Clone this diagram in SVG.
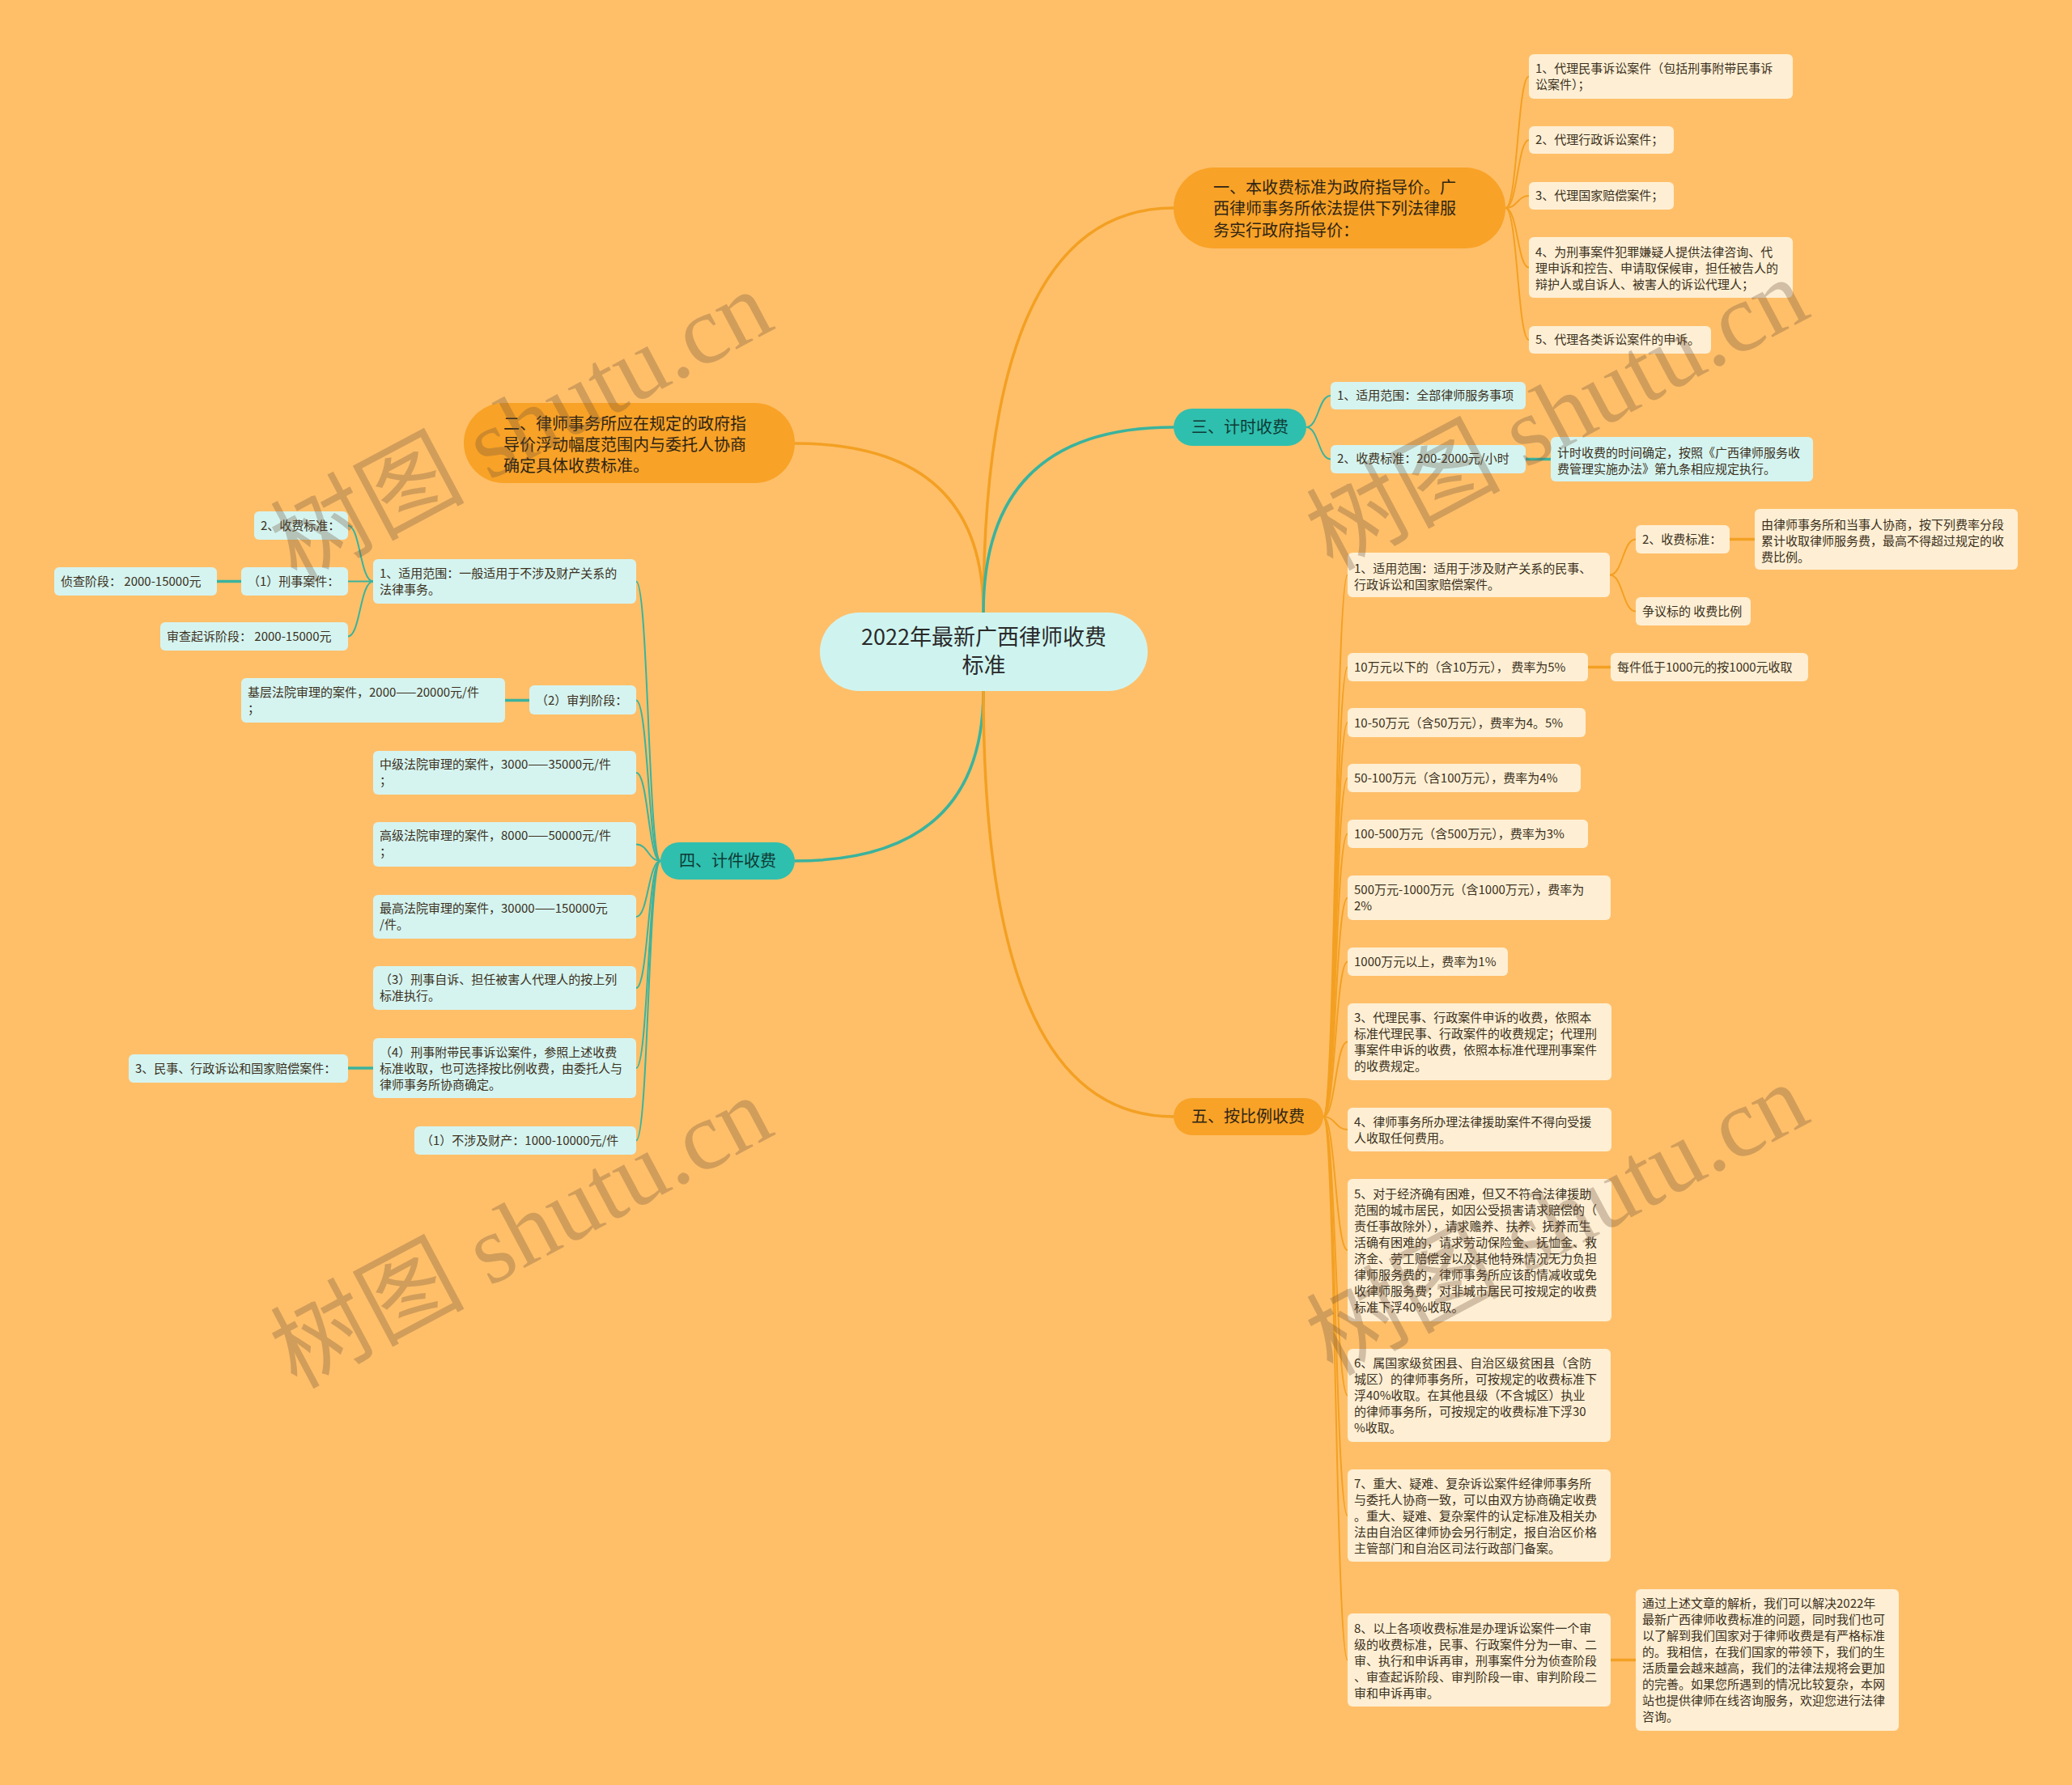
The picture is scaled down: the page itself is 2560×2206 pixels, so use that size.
<svg xmlns="http://www.w3.org/2000/svg" width="2560" height="2206" viewBox="0 0 2560 2206">
<style>
text{font-family:"Noto Sans CJK SC","Noto Sans",sans-serif;}
.s{font-size:15px;fill:#3b3020;}
.m{font-size:20px;fill:#2e2414;}
.mt{font-size:20px;fill:#0e3a34;}
.r{font-size:27px;fill:#2a2a2a;}
.cream{fill:#FEEFD4;}
.aqua{fill:#D5F4F0;}
.po{fill:#F8A227;}
.pt{fill:#2FBFAE;}
.root{fill:#CFF4F0;}
.lo{fill:none;stroke:#F3A023;stroke-width:2;}
.lt{fill:none;stroke:#3AB39D;stroke-width:2;}
.lo3{fill:none;stroke:#F3A023;stroke-width:3.5;}
.lt3{fill:none;stroke:#3AB39D;stroke-width:3.5;}
.wm{font-family:"Liberation Serif","Noto Sans CJK SC",serif;font-size:120px;fill:#6b5038;opacity:.3;}
</style>
<rect width="2560" height="2206" fill="#FFBF69"/>

<g id="connectors">
<path class="lo3" d="M1215,757 Q1215,257 1450,257"/>
<path class="lo3" d="M1215,757 Q1215,548 982,548"/>
<path class="lt3" d="M1215,757 Q1215,528 1450,528"/>
<path class="lt3" d="M1215,854 Q1215,1064 982,1064"/>
<path class="lo3" d="M1215,854 Q1215,1380 1450,1380"/>

<path class="lo" d="M1860,257 C1875,257 1875,94.5 1889,94.5"/>
<path class="lo" d="M1860,257 C1875,257 1875,173 1889,173"/>
<path class="lo" d="M1860,257 C1875,257 1875,242 1889,242"/>
<path class="lo" d="M1860,257 C1875,257 1875,330.5 1889,330.5"/>
<path class="lo" d="M1860,257 C1875,257 1875,420 1889,420"/>

<path class="lt" d="M1614,528 C1629,528 1629,489 1644,489"/>
<path class="lt" d="M1614,528 C1629,528 1629,567.5 1644,567.5"/>
<path class="lt3" d="M1885,567.5 L1916,567.5"/>

<path class="lt" d="M816,1064 C801,1064 801,718.5 786,718.5"/>
<path class="lt" d="M816,1064 C801,1064 801,865.5 786,865.5"/>
<path class="lt" d="M816,1064 C801,1064 801,955 786,955"/>
<path class="lt" d="M816,1064 C801,1064 801,1043.5 786,1043.5"/>
<path class="lt" d="M816,1064 C801,1064 801,1133 786,1133"/>
<path class="lt" d="M816,1064 C801,1064 801,1221 786,1221"/>
<path class="lt" d="M816,1064 C801,1064 801,1320 786,1320"/>
<path class="lt" d="M816,1064 C801,1064 801,1409.5 786,1409.5"/>
<path class="lt" d="M461,718.5 C445,718.5 445,649.5 430,649.5"/>
<path class="lt" d="M461,718.5 L430,718.5"/>
<path class="lt" d="M461,718.5 C445,718.5 445,786.5 430,786.5"/>
<path class="lt3" d="M298,718.5 L268,718.5"/>
<path class="lt3" d="M654,865.5 L624,865.5"/>
<path class="lt3" d="M461,1320 L430,1320"/>

<path class="lo" d="M1635,1380 C1650,1380 1650,710.5 1665,710.5"/>
<path class="lo" d="M1635,1380 C1650,1380 1650,824.5 1665,824.5"/>
<path class="lo" d="M1635,1380 C1650,1380 1650,893 1665,893"/>
<path class="lo" d="M1635,1380 C1650,1380 1650,961.5 1665,961.5"/>
<path class="lo" d="M1635,1380 C1650,1380 1650,1030.5 1665,1030.5"/>
<path class="lo" d="M1635,1380 C1650,1380 1650,1109.5 1665,1109.5"/>
<path class="lo" d="M1635,1380 C1650,1380 1650,1188.5 1665,1188.5"/>
<path class="lo" d="M1635,1380 C1650,1380 1650,1287.5 1665,1287.5"/>
<path class="lo" d="M1635,1380 C1650,1380 1650,1396 1665,1396"/>
<path class="lo" d="M1635,1380 C1650,1380 1650,1545 1665,1545"/>
<path class="lo" d="M1635,1380 C1650,1380 1650,1724.5 1665,1724.5"/>
<path class="lo" d="M1635,1380 C1650,1380 1650,1873 1665,1873"/>
<path class="lo" d="M1635,1380 C1650,1380 1650,2051.5 1665,2051.5"/>
<path class="lo" d="M1989,710.5 C2005,710.5 2005,666.5 2021,666.5"/>
<path class="lo" d="M1989,710.5 C2005,710.5 2005,755.5 2021,755.5"/>
<path class="lo3" d="M2137,666.5 L2168,666.5"/>
<path class="lo3" d="M1962,824.5 L1990,824.5"/>
<path class="lo3" d="M1990,2051.5 L2021,2051.5"/>
</g>

<g id="root">
<rect class="root" x="1013" y="757" width="405" height="97" rx="48.5"/>
<text class="r" x="1215.5" y="797" text-anchor="middle">2022年最新广西律师收费</text>
<text class="r" x="1215.5" y="832" text-anchor="middle">标准</text>
</g>

<g id="n1">
<rect class="po" x="1450" y="207" width="410" height="100" rx="50"/>
<text class="m" x="1499" y="239">一、本收费标准为政府指导价。广</text>
<text class="m" x="1499" y="265">西律师事务所依法提供下列法律服</text>
<text class="m" x="1499" y="292">务实行政府指导价：</text>
</g>
<g id="n1-1"><rect class="cream" x="1889" y="67" width="326" height="55" rx="6"/>
<text class="s" x="1897" y="90">1、代理民事诉讼案件（包括刑事附带民事诉</text>
<text class="s" x="1897" y="110">讼案件）；</text></g>
<g id="n1-2"><rect class="cream" x="1889" y="156" width="179" height="34" rx="6"/>
<text class="s" x="1897" y="178">2、代理行政诉讼案件；</text></g>
<g id="n1-3"><rect class="cream" x="1889" y="225" width="179" height="34" rx="6"/>
<text class="s" x="1897" y="247">3、代理国家赔偿案件；</text></g>
<g id="n1-4"><rect class="cream" x="1889" y="293" width="326" height="75" rx="6"/>
<text class="s" x="1897" y="317">4、为刑事案件犯罪嫌疑人提供法律咨询、代</text>
<text class="s" x="1897" y="337">理申诉和控告、申请取保候审，担任被告人的</text>
<text class="s" x="1897" y="357">辩护人或自诉人、被害人的诉讼代理人；</text></g>
<g id="n1-5"><rect class="cream" x="1889" y="403" width="225" height="34" rx="6"/>
<text class="s" x="1897" y="425">5、代理各类诉讼案件的申诉。</text></g>

<g id="n2">
<rect class="po" x="573" y="498" width="409" height="99" rx="49.5"/>
<text class="m" x="622" y="531">二、律师事务所应在规定的政府指</text>
<text class="m" x="622" y="557">导价浮动幅度范围内与委托人协商</text>
<text class="m" x="622" y="583">确定具体收费标准。</text>
</g>

<g id="n3">
<rect class="pt" x="1450" y="505" width="164" height="46" rx="23"/>
<text class="mt" x="1532" y="535" text-anchor="middle">三、计时收费</text>
</g>
<g id="n3-1"><rect class="aqua" x="1644" y="472" width="241" height="34" rx="6"/>
<text class="s" x="1652" y="494">1、适用范围：全部律师服务事项</text></g>
<g id="n3-2"><rect class="aqua" x="1644" y="550" width="241" height="35" rx="6"/>
<text class="s" x="1652" y="572">2、收费标准：200-2000元/小时</text></g>
<g id="n3-2-1"><rect class="aqua" x="1916" y="540" width="324" height="55" rx="6"/>
<text class="s" x="1924" y="565">计时收费的时间确定，按照《广西律师服务收</text>
<text class="s" x="1924" y="585">费管理实施办法》第九条相应规定执行。</text></g>

<g id="n4">
<rect class="pt" x="816" y="1041" width="166" height="46" rx="23"/>
<text class="mt" x="899" y="1071" text-anchor="middle">四、计件收费</text>
</g>
<g id="n4-a"><rect class="aqua" x="461" y="691" width="325" height="55" rx="6"/>
<text class="s" x="469" y="714">1、适用范围：一般适用于不涉及财产关系的</text>
<text class="s" x="469" y="734">法律事务。</text></g>
<g id="n4-a1"><rect class="aqua" x="314" y="632" width="116" height="35" rx="6"/>
<text class="s" x="322" y="655">2、收费标准：</text></g>
<g id="n4-a2"><rect class="aqua" x="298" y="701" width="132" height="35" rx="6"/>
<text class="s" x="306" y="724">（1）刑事案件：</text></g>
<g id="n4-a2a"><rect class="aqua" x="67" y="701" width="201" height="35" rx="6"/>
<text class="s" x="75" y="724">侦查阶段： 2000-15000元</text></g>
<g id="n4-a3"><rect class="aqua" x="198" y="769" width="232" height="35" rx="6"/>
<text class="s" x="206" y="792">审查起诉阶段： 2000-15000元</text></g>
<g id="n4-b"><rect class="aqua" x="654" y="847" width="132" height="36" rx="6"/>
<text class="s" x="662" y="871">（2）审判阶段：</text></g>
<g id="n4-b1"><rect class="aqua" x="298" y="838" width="326" height="55" rx="6"/>
<text class="s" x="306" y="861">基层法院审理的案件，2000——20000元/件</text>
<text class="s" x="306" y="881">；</text></g>
<g id="n4-c"><rect class="aqua" x="461" y="928" width="325" height="54" rx="6"/>
<text class="s" x="469" y="950">中级法院审理的案件，3000——35000元/件</text>
<text class="s" x="469" y="970">；</text></g>
<g id="n4-d"><rect class="aqua" x="461" y="1016" width="325" height="55" rx="6"/>
<text class="s" x="469" y="1038">高级法院审理的案件，8000——50000元/件</text>
<text class="s" x="469" y="1058">；</text></g>
<g id="n4-e"><rect class="aqua" x="461" y="1106" width="325" height="54" rx="6"/>
<text class="s" x="469" y="1128">最高法院审理的案件，30000——150000元</text>
<text class="s" x="469" y="1148">/件。</text></g>
<g id="n4-f"><rect class="aqua" x="461" y="1194" width="325" height="54" rx="6"/>
<text class="s" x="469" y="1216">（3）刑事自诉、担任被害人代理人的按上列</text>
<text class="s" x="469" y="1236">标准执行。</text></g>
<g id="n4-g"><rect class="aqua" x="461" y="1283" width="325" height="74" rx="6"/>
<text class="s" x="469" y="1306">（4）刑事附带民事诉讼案件，参照上述收费</text>
<text class="s" x="469" y="1326">标准收取，也可选择按比例收费，由委托人与</text>
<text class="s" x="469" y="1346">律师事务所协商确定。</text></g>
<g id="n4-g1"><rect class="aqua" x="159" y="1303" width="271" height="35" rx="6"/>
<text class="s" x="167" y="1326">3、民事、行政诉讼和国家赔偿案件：</text></g>
<g id="n4-h"><rect class="aqua" x="512" y="1392" width="274" height="35" rx="6"/>
<text class="s" x="520" y="1415">（1）不涉及财产：1000-10000元/件</text></g>

<g id="n5">
<rect class="po" x="1450" y="1357" width="185" height="46" rx="23"/>
<text class="m" x="1542" y="1387" text-anchor="middle">五、按比例收费</text>
</g>
<g id="n5-a"><rect class="cream" x="1665" y="683" width="324" height="55" rx="6"/>
<text class="s" x="1673" y="708">1、适用范围：适用于涉及财产关系的民事、</text>
<text class="s" x="1673" y="728">行政诉讼和国家赔偿案件。</text></g>
<g id="n5-a1"><rect class="cream" x="2021" y="649" width="116" height="35" rx="6"/>
<text class="s" x="2029" y="672">2、收费标准：</text></g>
<g id="n5-a1a"><rect class="cream" x="2168" y="629" width="325" height="75" rx="6"/>
<text class="s" x="2176" y="654">由律师事务所和当事人协商，按下列费率分段</text>
<text class="s" x="2176" y="674">累计收取律师服务费，最高不得超过规定的收</text>
<text class="s" x="2176" y="694">费比例。</text></g>
<g id="n5-a2"><rect class="cream" x="2021" y="738" width="142" height="35" rx="6"/>
<text class="s" x="2029" y="761">争议标的 收费比例</text></g>
<g id="n5-b"><rect class="cream" x="1665" y="807" width="297" height="35" rx="6"/>
<text class="s" x="1673" y="830">10万元以下的（含10万元）， 费率为5%</text></g>
<g id="n5-b1"><rect class="cream" x="1990" y="807" width="244" height="35" rx="6"/>
<text class="s" x="1998" y="830">每件低于1000元的按1000元收取</text></g>
<g id="n5-c"><rect class="cream" x="1665" y="875" width="294" height="36" rx="6"/>
<text class="s" x="1673" y="899">10-50万元（含50万元），费率为4。5%</text></g>
<g id="n5-d"><rect class="cream" x="1665" y="944" width="288" height="35" rx="6"/>
<text class="s" x="1673" y="967">50-100万元（含100万元），费率为4%</text></g>
<g id="n5-e"><rect class="cream" x="1665" y="1013" width="297" height="35" rx="6"/>
<text class="s" x="1673" y="1036">100-500万元（含500万元），费率为3%</text></g>
<g id="n5-f"><rect class="cream" x="1665" y="1082" width="325" height="55" rx="6"/>
<text class="s" x="1673" y="1105">500万元-1000万元（含1000万元），费率为</text>
<text class="s" x="1673" y="1125">2%</text></g>
<g id="n5-g"><rect class="cream" x="1665" y="1171" width="198" height="35" rx="6"/>
<text class="s" x="1673" y="1194">1000万元以上，费率为1%</text></g>
<g id="n5-h"><rect class="cream" x="1665" y="1240" width="326" height="95" rx="6"/>
<text class="s" x="1673" y="1263">3、代理民事、行政案件申诉的收费，依照本</text>
<text class="s" x="1673" y="1283">标准代理民事、行政案件的收费规定；代理刑</text>
<text class="s" x="1673" y="1303">事案件申诉的收费，依照本标准代理刑事案件</text>
<text class="s" x="1673" y="1323">的收费规定。</text></g>
<g id="n5-i"><rect class="cream" x="1665" y="1369" width="326" height="54" rx="6"/>
<text class="s" x="1673" y="1392">4、律师事务所办理法律援助案件不得向受援</text>
<text class="s" x="1673" y="1412">人收取任何费用。</text></g>
<g id="n5-j"><rect class="cream" x="1665" y="1457" width="326" height="176" rx="6"/>
<text class="s" x="1673" y="1481">5、对于经济确有困难，但又不符合法律援助</text>
<text class="s" x="1673" y="1501">范围的城市居民，如因公受损害请求赔偿的（</text>
<text class="s" x="1673" y="1521">责任事故除外），请求赡养、扶养、抚养而生</text>
<text class="s" x="1673" y="1541">活确有困难的，请求劳动保险金、抚恤金、救</text>
<text class="s" x="1673" y="1561">济金、劳工赔偿金以及其他特殊情况无力负担</text>
<text class="s" x="1673" y="1581">律师服务费的，律师事务所应该酌情减收或免</text>
<text class="s" x="1673" y="1601">收律师服务费；对非城市居民可按规定的收费</text>
<text class="s" x="1673" y="1621">标准下浮40%收取。</text></g>
<g id="n5-k"><rect class="cream" x="1665" y="1667" width="325" height="115" rx="6"/>
<text class="s" x="1673" y="1690">6、属国家级贫困县、自治区级贫困县（含防</text>
<text class="s" x="1673" y="1710">城区）的律师事务所，可按规定的收费标准下</text>
<text class="s" x="1673" y="1730">浮40%收取。在其他县级（不含城区）执业</text>
<text class="s" x="1673" y="1750">的律师事务所，可按规定的收费标准下浮30</text>
<text class="s" x="1673" y="1770">%收取。</text></g>
<g id="n5-l"><rect class="cream" x="1665" y="1816" width="325" height="114" rx="6"/>
<text class="s" x="1673" y="1839">7、重大、疑难、复杂诉讼案件经律师事务所</text>
<text class="s" x="1673" y="1859">与委托人协商一致，可以由双方协商确定收费</text>
<text class="s" x="1673" y="1879">。重大、疑难、复杂案件的认定标准及相关办</text>
<text class="s" x="1673" y="1899">法由自治区律师协会另行制定，报自治区价格</text>
<text class="s" x="1673" y="1919">主管部门和自治区司法行政部门备案。</text></g>
<g id="n5-m"><rect class="cream" x="1665" y="1994" width="325" height="115" rx="6"/>
<text class="s" x="1673" y="2018">8、以上各项收费标准是办理诉讼案件一个审</text>
<text class="s" x="1673" y="2038">级的收费标准，民事、行政案件分为一审、二</text>
<text class="s" x="1673" y="2058">审、执行和申诉再审，刑事案件分为侦查阶段</text>
<text class="s" x="1673" y="2078">、审查起诉阶段、审判阶段一审、审判阶段二</text>
<text class="s" x="1673" y="2098">审和申诉再审。</text></g>
<g id="n5-m1"><rect class="cream" x="2021" y="1964" width="325" height="175" rx="6"/>
<text class="s" x="2029" y="1987">通过上述文章的解析，我们可以解决2022年</text>
<text class="s" x="2029" y="2007">最新广西律师收费标准的问题，同时我们也可</text>
<text class="s" x="2029" y="2027">以了解到我们国家对于律师收费是有严格标准</text>
<text class="s" x="2029" y="2047">的。我相信，在我们国家的带领下，我们的生</text>
<text class="s" x="2029" y="2067">活质量会越来越高，我们的法律法规将会更加</text>
<text class="s" x="2029" y="2087">的完善。如果您所遇到的情况比较复杂，本网</text>
<text class="s" x="2029" y="2107">站也提供律师在线咨询服务，欢迎您进行法律</text>
<text class="s" x="2029" y="2127">咨询。</text></g>

<g id="watermarks">
<text class="wm" x="0" y="0" text-anchor="middle" transform="translate(663,563) rotate(-28)">树图 shutu.cn</text>
<text class="wm" x="0" y="0" text-anchor="middle" transform="translate(1943,548) rotate(-28)">树图 shutu.cn</text>
<text class="wm" x="0" y="0" text-anchor="middle" transform="translate(663,1559) rotate(-28)">树图 shutu.cn</text>
<text class="wm" x="0" y="0" text-anchor="middle" transform="translate(1943,1543) rotate(-28)">树图 shutu.cn</text>
</g>
</svg>
